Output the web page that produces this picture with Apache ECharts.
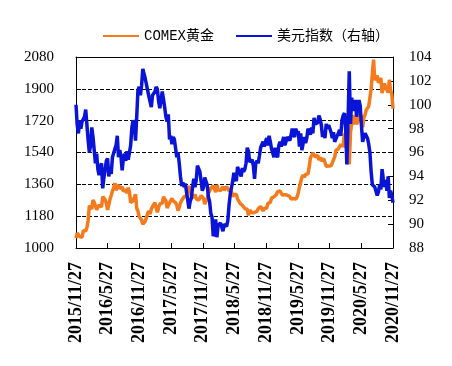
<!DOCTYPE html>
<html><head><meta charset="utf-8">
<script src="https://cdn.jsdelivr.net/npm/echarts@6/dist/echarts.min.js"></script>
<style>html,body{margin:0;padding:0;background:#fff}#c{width:452px;height:366px}</style>
</head><body><div id="c"></div>
<script>
// X-axis tick labels (every six months)
const tickLabels = ['2015/11/27','2016/5/27','2016/11/27','2017/5/27','2017/11/27','2018/5/27','2018/11/27','2019/5/27','2019/11/27','2020/5/27','2020/11/27'];
const seriesNames = ['COMEX黄金', '美元指数（右轴）'];
// weekly observations (Fridays) starting from this date
const firstWeek = '2015-11-27';
const lastWeek = '2020-11-27';

// COMEX gold, USD/oz (left axis)
const gold2015 = [1056,1084,1075,1065,1076];
const gold2016 = [1061,1097,1089,1097,1116, 1157,1239,1230,1221, 1271,1258,1255,1217, 1222,1243,1234,1232,1290, 1290,1273,1252,1216, 1244,1276,1298,1322, 1340,1367,1327,1322,1357, 1337,1338,1345,1321, 1327,1330,1310,1341,1316, 1257,1251,1267,1276, 1304,1225,1208,1178, 1177,1159,1134,1133,1152];
const gold2017 = [1173,1197,1209,1191, 1220,1234,1239,1257, 1226,1202,1229,1249,1249, 1254,1289,1284,1268, 1227,1228,1255,1268, 1280,1266,1256,1256,1242, 1212,1228,1255,1269, 1264,1290,1291,1297, 1330,1351,1325,1297,1284, 1275,1303,1280,1272, 1270,1275,1296,1288, 1280,1248,1257,1278,1309];
const gold2018 = [1322,1338,1333,1352, 1333,1316,1356,1330, 1323,1324,1313,1347,1327, 1335,1347,1336,1323, 1314,1320,1291,1303, 1294,1302,1278,1270,1253, 1255,1241,1231,1223, 1214,1219,1184,1213,1206, 1199,1201,1201,1196, 1207,1222,1229,1235, 1233,1210,1223,1223,1226, 1252,1242,1258,1282];
const gold2019 = [1286,1290,1282,1303, 1318,1318,1322,1331, 1299,1298,1302,1313,1298, 1295,1291,1277,1288, 1280,1287,1277,1289,1311, 1346,1345,1400,1413, 1400,1416,1427,1419, 1457,1509,1523,1537,1529, 1515,1506,1524,1497, 1513,1493,1494,1505, 1514,1462,1468,1463,1472, 1465,1481,1481,1515];
const gold2020 = [1553,1562,1560,1571,1587, 1573,1586,1648,1566, 1672,1516,1474,1654, 1645,1752,1698,1745, 1700,1713,1756,1735,1751, 1683,1737,1753,1780, 1790,1801,1810,1897,1986, 2065,1949,1947,1975, 1934,1947,1962,1876, 1907,1930,1906,1905,1879, 1951,1889,1872,1788];

// US dollar index (right axis)
const dxy2015 = [100.0,98.3,97.6,98.7,98.0];
const dxy2016 = [98.6,98.6,99.0,99.6,99.6, 97.0,96.0,96.6,98.1, 97.3,96.2,95.1,95.9, 94.6,94.1,94.7,95.1,93.0, 93.9,94.6,95.3,95.5, 94.0,94.6,94.2,95.6, 95.7,96.3,96.6,97.4,95.6, 96.2,95.7,94.5,95.5, 95.9,95.3,96.1,95.4,95.4, 96.6,98.1,98.7,98.4, 97.0,99.0,101.2,101.5, 100.8,101.6,103.0,103.0,102.2];
const dxy2017 = [102.2,101.2,100.7,100.6, 99.8,100.8,100.9,101.1, 101.5,101.3,100.3,99.7,100.4, 101.1,100.5,99.8,99.0, 98.6,99.2,97.1,97.4, 96.7,97.3,97.1,97.2,95.6, 96.0,95.1,94.0,93.2, 93.5,93.1,93.4,92.7, 92.8,91.3,91.9,92.2,93.1, 93.8,93.1,93.7,94.9, 94.8,94.4,93.6,92.8, 93.1,93.9,93.9,93.3,92.3];
const dxy2018 = [91.9,90.9,90.6,89.0, 89.2,90.4,88.9,89.9, 89.9,90.1,90.2,89.4,90.0, 90.1,89.8,90.3,91.6, 92.5,92.5,93.6,94.3, 94.2,93.6,94.8,94.5,94.6, 94.0,94.7,94.4,94.6, 95.1,96.4,96.1,95.2,95.1, 95.4,94.9,93.8,95.1, 95.3,95.1,95.7,96.4, 96.5,96.9,96.5,96.9,97.2, 96.6,97.4,96.9,96.3];
const dxy2019 = [96.2,95.6,96.4,95.8, 95.6,96.6,96.9,96.5, 96.5,97.3,96.6,96.6,97.3, 97.4,97.0,97.4,98.0, 97.5,97.3,98.0,97.6,97.8, 96.5,97.6,96.2,96.1, 97.3,96.8,97.2,98.0, 98.1,97.5,98.1,97.6,98.9, 98.4,98.3,98.5,99.1, 98.8,98.3,97.3,97.8, 97.2,98.4,98.0,98.3,98.3, 97.7,97.2,97.7,96.9];
const dxy2020 = [96.8,97.4,97.6,97.9,97.4, 98.7,99.1,99.3,98.1, 95.0,98.7,102.8,98.4, 100.6,99.5,99.8,100.4, 99.0,99.7,100.4,99.9,98.3, 96.9,97.3,97.6,97.4, 97.2,96.7,96.0,94.4,93.3, 93.4,93.1,93.2,92.4, 92.7,93.3,92.9,94.6, 93.8,93.1,93.7,92.8,94.0, 92.2,92.8,92.4,91.8];

const goldValues = [].concat(gold2015, gold2016, gold2017, gold2018, gold2019, gold2020);
const dxyValues = [].concat(dxy2015, dxy2016, dxy2017, dxy2018, dxy2019, dxy2020);

const t0 = Date.parse(firstWeek + 'T00:00:00Z');
const WEEK = 7 * 24 * 3600 * 1000;
const weekDates = goldValues.map((_, i) => t0 + i * WEEK);
const goldData = goldValues.map((v, i) => [weekDates[i], v]);
const dxyData = dxyValues.map((v, i) => [weekDates[i], v]);

const black = '#000';
const plain = v => String(v);
const chart = echarts.init(document.getElementById('c'), null, {renderer: 'canvas'});
chart.setOption({
  animation: false,
  backgroundColor: '#fff',
  legend: {
    left: 98, top: 24,
    icon: 'rect', itemWidth: 36, itemHeight: 2, itemGap: 22,
    textStyle: {color: '#000', fontSize: 14, fontFamily: "'Liberation Mono','Noto Sans CJK SC'"},
    data: seriesNames
  },
  grid: {left: 76, right: 59, top: 57, bottom: 118, containLabel: false},
  xAxis: [{
    type: 'category', data: tickLabels, boundaryGap: false, position: 'bottom',
    axisLine: {lineStyle: {color: black, width: 1}},
    axisTick: {inside: true, length: 5, lineStyle: {color: black}, interval: 0},
    axisLabel: {rotate: 90, interval: 0, margin: 14, fontSize: 18, fontWeight: 'bold', color: black, fontFamily: 'Liberation Serif'},
    splitLine: {show: false}
  }, {
    type: 'time', position: 'top', min: firstWeek, max: lastWeek,
    axisLine: {show: true, onZero: false, lineStyle: {color: black, width: 1}},
    axisTick: {show: false}, axisLabel: {show: false}, splitLine: {show: false}
  }],
  yAxis: [{
    type: 'value', position: 'left', min: 1000, max: 2080, interval: 180,
    axisLine: {show: true, lineStyle: {color: black, width: 1}},
    axisTick: {show: true, inside: true, length: 5, lineStyle: {color: black}},
    axisLabel: {margin: 22, fontSize: 15, color: black, fontFamily: 'Liberation Serif', formatter: plain},
    splitLine: {show: true, lineStyle: {color: black, type: [4, 2], width: 1}}
  }, {
    type: 'value', position: 'right', min: 88, max: 104, interval: 2,
    axisLine: {show: true, lineStyle: {color: black, width: 1}},
    axisTick: {show: true, inside: true, length: 5, lineStyle: {color: black}},
    axisLabel: {margin: 16, fontSize: 15, color: black, fontFamily: 'Liberation Serif', formatter: plain},
    splitLine: {show: false}
  }],
  series: [{
    name: seriesNames[0], type: 'line', xAxisIndex: 1, yAxisIndex: 0,
    data: goldData, showSymbol: false, symbol: 'none',
    lineStyle: {color: '#f57a1c', width: 3.5}, itemStyle: {color: '#f57a1c'}, z: 2
  }, {
    name: seriesNames[1], type: 'line', xAxisIndex: 1, yAxisIndex: 1,
    data: dxyData, showSymbol: false, symbol: 'none',
    lineStyle: {color: '#0a14d6', width: 3.5}, itemStyle: {color: '#0a14d6'}, z: 3
  }]
});
</script></body></html>
